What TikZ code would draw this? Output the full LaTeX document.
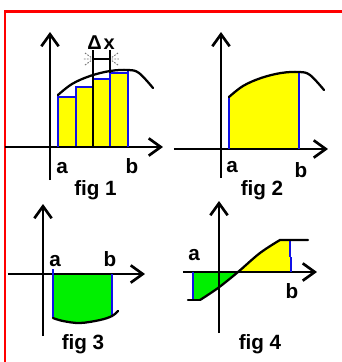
\documentclass[tikz,border=0pt]{standalone}
\usepackage{fontspec}
\setmainfont{Liberation Sans}
\usetikzlibrary{arrows.meta}
\definecolor{framered}{HTML}{FF0000}
\definecolor{areayellow}{HTML}{FFFF00}
\definecolor{areagreen}{HTML}{00F000}
\definecolor{edgeblue}{HTML}{1010E8}
\tikzset{
  >={Straight Barb[length=9pt,width=13pt]},
  % achsen und kurven
  axis/.style={->,draw=black,line width=2pt},
  graph/.style={draw=black,line width=1.7pt,line cap=round},
  bound/.style={draw=edgeblue,line width=1.8pt},
  bar/.style={fill=areayellow,draw=edgeblue,line width=1.4pt},
  guide/.style={draw=black,line width=0.9pt},
  ray/.style={draw=black!55,line width=0.7pt,dash pattern=on 1.2pt off 1pt},
  % texte
  lbl/.style={font=\fontsize{15.5}{18}\selectfont\bfseries,inner sep=0pt,anchor=base},
  dxlbl/.style={font=\fontsize{15}{17}\selectfont\bfseries,inner sep=0pt,anchor=base},
}
\newcommand\archplot{plot[smooth,tension=0.6] coordinates {(8,-52) (22,-63) (40,-71) (60,-76) (78,-77) (89,-74) (103,-59)}}
\newcommand\dipplot{plot[smooth,tension=0.6] coordinates {(10,44) (20,47) (37,49) (57,46) (69,42) (75,37)}}
\newcommand\waveplot{plot[smooth,tension=0.6] coordinates {(-19,28) (-1,16) (19,0) (41,-19) (61,-32)}}
\begin{document}
\begin{tikzpicture}[x=0.75pt,y=-0.75pt]
  \useasboundingbox[fill=white] (0,0) rectangle (342,362);
  \draw[framered,line width=2pt] (5,362) -- (5,11.5) -- (342,11.5);
  % fig 1
  \begin{scope}[shift={(50,147)}]
  \filldraw[bar] (8,0) rectangle (26,-50);
  \filldraw[bar] (26,0) rectangle (43,-60);
  \filldraw[bar] (43,0) rectangle (60,-68);
  \filldraw[bar] (60,0) rectangle (78,-74);
  \draw[axis] (-45,0) -- (113,0);
  \draw[axis] (0,33) -- (0,-115);
  \draw[bound] (8,0) -- (8,-52);
  \draw[bound] (78,0) -- (78,-77);
  \draw[guide] (43,0) -- (43,-97);
  \draw[guide] (60,-74) -- (60,-97);
  \draw[guide] (43,-88) -- (60,-88);
  \draw[ray] (35,-94) -- (42,-89) (34,-88) -- (42,-88) (35,-82) -- (42,-87);
  \draw[ray] (68,-94) -- (61,-89) (69,-88) -- (61,-88) (68,-82) -- (61,-87);
  \draw[graph] \archplot;
  \node[dxlbl] (dx1) at (51,-98) {Δ\kern1.5pt x};
  \node[lbl] (a1) at (12,26) {a};
  \node[lbl] (b1) at (82,26) {b};
  \node[lbl] (cap1) at (45.5,48) {fig 1};
  \end{scope}
  % fig 2
  \begin{scope}[shift={(221,149)}]
  \begin{scope}
  \clip (8,-90) rectangle (78,0);
  \fill[areayellow] \archplot -- (103,0) -- (8,0) -- cycle;
  \end{scope}
  \draw[axis] (-47,0) -- (107,0);
  \draw[axis] (0,29) -- (0,-117);
  \draw[bound] (8,0) -- (8,-52);
  \draw[bound] (78,0) -- (78,-77);
  \draw[graph] \archplot;
  \node[lbl] (a2) at (11,23) {a};
  \node[lbl] (b2) at (80,28) {b};
  \node[lbl] (cap2) at (41,46) {fig 2};
  \end{scope}
  % fig 3
  \begin{scope}[shift={(43,274)}]
  \begin{scope}
  \clip (10,-10) rectangle (69,60);
  \fill[areagreen] \dipplot -- (75,0) -- (10,0) -- cycle;
  \end{scope}
  \draw[axis] (-35,0) -- (102,0);
  \draw[axis] (0,62) -- (0,-70);
  \draw[bound] (10,-5) -- (10,44);
  \draw[bound] (69,0) -- (69,42);
  \draw[graph] \dipplot;
  \node[lbl] (a3) at (12,-8) {a};
  \node[lbl] (b3) at (67,-8) {b};
  \node[lbl] (cap3) at (40,75) {fig 3};
  \end{scope}
  % fig 4
  \begin{scope}[shift={(219,272)}]
  \begin{scope}
  \clip (-26,-50) rectangle (19,50);
  \fill[areagreen] \waveplot -- (89,-32) -- (89,0) -- (-31,0) -- (-31,28) -- cycle;
  \end{scope}
  \begin{scope}
  \clip (19,-50) rectangle (72,50);
  \fill[areayellow] \waveplot -- (89,-32) -- (89,0) -- (-31,0) -- (-31,28) -- cycle;
  \end{scope}
  \draw[axis] (-36,0) -- (98,0);
  \draw[axis] (0,61) -- (0,-71);
  \draw[bound] (-26,0) -- (-26,28);
  \draw[bound] (71,-32) -- (71,-15) (72,-15) -- (72,0);
  \draw[graph] \waveplot -- (89,-32);
  \draw[graph] (-31,28) -- (-19,28);
  \node[lbl] (a4) at (-25,-12) {a};
  \node[lbl] (b4) at (73,26) {b};
  \node[lbl] (cap4) at (41,77) {fig 4};
  \end{scope}
\end{tikzpicture}
\end{document}
